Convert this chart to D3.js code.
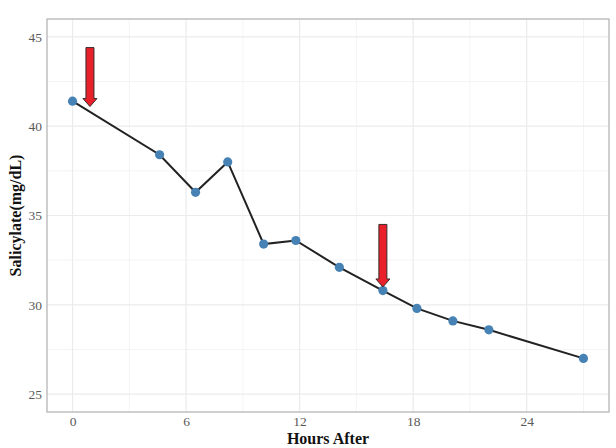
<!DOCTYPE html>
<html>
<head>
<meta charset="utf-8">
<script src="https://cdn.jsdelivr.net/npm/d3@7"></script>
<style>
  body { margin: 0; background: #fff; }
  svg { display: block; }
</style>
</head>
<body>
<svg id="chart" width="616" height="448"></svg>
<script>
const hours = [0, 4.6, 6.5, 8.2, 10.1, 11.8, 14.1, 16.4, 18.2, 20.1, 22.0, 27.0];
const salicylate = [41.4, 38.4, 36.3, 38.0, 33.4, 33.6, 32.1, 30.8, 29.8, 29.1, 28.6, 27.0];
const xTicks = [0, 6, 12, 18, 24];
const yTicks = [25, 30, 35, 40, 45];
const xMinor = [3, 9, 15, 21, 27];
const yMinor = [27.5, 32.5, 37.5, 42.5];
const arrowX = [0.92, 16.4];
const arrowTop = [44.4, 34.5];
const arrowTip = [41.1, 31.0];

const svg = d3.select("#chart");
const m = { left: 47, right: 7, top: 19, bottom: 36 };
const W = 616, H = 448;

const x = d3.scaleLinear().domain([-1.35, 28.35]).range([m.left, W - m.right]);
const y = d3.scaleLinear().domain([24, 46]).range([H - m.bottom, m.top]);

const g = svg.append("g");

// minor grid
g.selectAll(".vmin").data(xMinor).join("line")
  .attr("x1", d => x(d)).attr("x2", d => x(d))
  .attr("y1", m.top).attr("y2", H - m.bottom)
  .attr("stroke", "#f4f4f4").attr("stroke-width", 1);
g.selectAll(".hmin").data(yMinor).join("line")
  .attr("y1", d => y(d)).attr("y2", d => y(d))
  .attr("x1", m.left).attr("x2", W - m.right)
  .attr("stroke", "#f4f4f4").attr("stroke-width", 1);
// major grid
g.selectAll(".vmaj").data(xTicks).join("line")
  .attr("x1", d => x(d)).attr("x2", d => x(d))
  .attr("y1", m.top).attr("y2", H - m.bottom)
  .attr("stroke", "#ebebeb").attr("stroke-width", 1.2);
g.selectAll(".hmaj").data(yTicks).join("line")
  .attr("y1", d => y(d)).attr("y2", d => y(d))
  .attr("x1", m.left).attr("x2", W - m.right)
  .attr("stroke", "#ebebeb").attr("stroke-width", 1.2);

// panel border
g.append("rect")
  .attr("x", m.left).attr("y", m.top)
  .attr("width", W - m.left - m.right).attr("height", H - m.top - m.bottom)
  .attr("fill", "none").attr("stroke", "#b5b5b5").attr("stroke-width", 1.3);

// axes
const xAxis = d3.axisBottom(x).tickValues(xTicks).tickSize(0).tickPadding(4);
const yAxis = d3.axisLeft(y).tickValues(yTicks).tickSize(0).tickPadding(5);
const xa = svg.append("g").attr("transform", `translate(0,${H - m.bottom})`).call(xAxis);
const ya = svg.append("g").attr("transform", `translate(${m.left},0)`).call(yAxis);
[xa, ya].forEach(a => {
  a.select(".domain").remove();
  a.selectAll("text")
    .attr("font-family", "'Liberation Serif', 'DejaVu Serif', serif")
    .attr("font-size", 13.5).attr("fill", "#5a5a5a");
});

// line
const line = d3.line().x((d, i) => x(hours[i])).y(d => y(d));
svg.append("path").datum(salicylate)
  .attr("d", line).attr("fill", "none")
  .attr("stroke", "#222").attr("stroke-width", 2);

// points
svg.selectAll(".pt").data(salicylate).join("circle")
  .attr("cx", (d, i) => x(hours[i])).attr("cy", d => y(d))
  .attr("r", 4.6).attr("fill", "#4682b4");

// arrows
arrowX.forEach((ax, i) => {
  const cx = x(ax), top = y(arrowTop[i]), tip = y(arrowTip[i]);
  const sw = 4, hw = 7, hh = 8;
  const pts = [
    [cx - sw, top], [cx + sw, top], [cx + sw, tip - hh], [cx + hw, tip - hh],
    [cx, tip], [cx - hw, tip - hh], [cx - sw, tip - hh]
  ];
  svg.append("polygon")
    .attr("points", pts.map(p => p.join(",")).join(" "))
    .attr("fill", "#e8202a").attr("stroke", "#3a2a2a").attr("stroke-width", 1);
});

// titles
svg.append("text")
  .attr("x", (m.left + W - m.right) / 2).attr("y", 444)
  .attr("text-anchor", "middle")
  .attr("font-family", "'Liberation Serif', 'DejaVu Serif', serif")
  .attr("font-weight", "bold").attr("font-size", 16).attr("fill", "#111")
  .text("Hours After");
svg.append("text")
  .attr("transform", `translate(21,${(m.top + H - m.bottom) / 2}) rotate(-90)`)
  .attr("text-anchor", "middle")
  .attr("font-family", "'Liberation Serif', 'DejaVu Serif', serif")
  .attr("font-weight", "bold").attr("font-size", 16).attr("fill", "#111")
  .text("Salicylate(mg/dL)");
</script>
</body>
</html>
